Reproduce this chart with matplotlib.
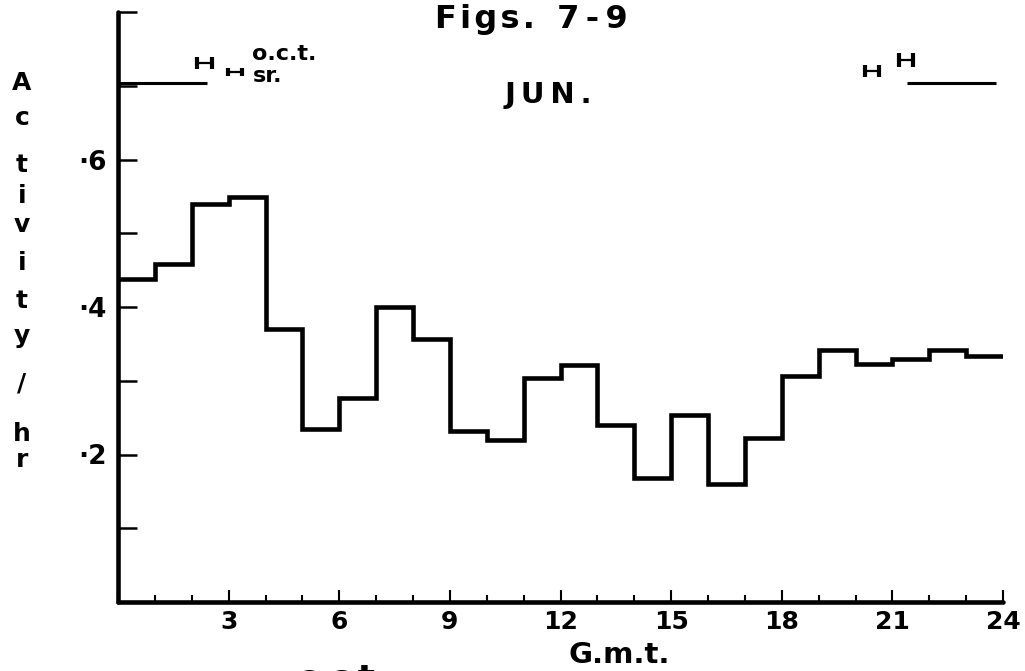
import numpy as np
import matplotlib
matplotlib.use('Agg')
import matplotlib.pyplot as plt
from matplotlib.ticker import FixedLocator, MultipleLocator

#%% data
hours = list(range(25))  # hour edges, G.m.t.
activity = [0.438, 0.458, 0.539, 0.549, 0.370, 0.235, 0.276, 0.400,
            0.357, 0.232, 0.219, 0.304, 0.322, 0.240, 0.168, 0.254,
            0.160, 0.222, 0.307, 0.342, 0.323, 0.330, 0.342, 0.334]

# dark bars at top (o.c.t. to o.c.t.)
night_left = [0, 2.4]
night_right = [21.4, 23.8]
night_level = 0.704

# o.c.t. / sr. ranges (centre, half width, level)
mark_x = [2.34, 3.17, 20.46, 21.37]
mark_xerr = [0.20, 0.19, 0.19, 0.20]
mark_y = [0.731, 0.718, 0.720, 0.735]
mark_cap = [4.3, 3.0, 4.3, 5.0]

xticks = [3, 6, 9, 12, 15, 18, 21, 24]
yticks = [0.2, 0.4, 0.6]
ytick_labels = ['·2', '·4', '·6']

#%% plot
W, H = 1025, 671
fig = plt.figure(figsize=(W / 100, H / 100), dpi=100)
ax = fig.add_axes([118 / W, 1 - 602 / H, (1003 - 118) / W, (602 - 12) / H])

ax.stairs(activity, hours, baseline=None, color='k', lw=3.3)

ax.plot(night_left, [night_level] * 2, color='k', lw=2.2, solid_capstyle='butt')
ax.plot(night_right, [night_level] * 2, color='k', lw=2.2, solid_capstyle='butt')
for x, xe, y, c in zip(mark_x, mark_xerr, mark_y, mark_cap):
    ax.errorbar(x, y, xerr=xe, fmt='none', ecolor='k', elinewidth=1.6,
                capsize=c, capthick=3)

ax.set_xlim(0, 24)
ax.set_ylim(0, 0.8)
for s in ['top', 'right']:
    ax.spines[s].set_visible(False)
for s in ['left', 'bottom']:
    ax.spines[s].set_linewidth(3.3)
    ax.spines[s].set_capstyle('round')

ax.xaxis.set_major_locator(FixedLocator(xticks))
ax.xaxis.set_minor_locator(MultipleLocator(1))
ax.set_xticklabels([str(t) for t in xticks])
ax.yaxis.set_major_locator(MultipleLocator(0.1))
ax.set_yticks(yticks, ytick_labels)
ax.yaxis.set_minor_locator(MultipleLocator(0.1))

ax.tick_params(axis='x', which='major', direction='in', length=9, width=1.5,
               pad=6, labelsize=18)
ax.tick_params(axis='x', which='minor', direction='in', length=5, width=1.5)
ax.tick_params(axis='y', which='both', direction='in', length=14, width=1.8,
               pad=8, labelsize=19)
for lab in ax.get_xticklabels() + ax.get_yticklabels():
    lab.set_fontweight('bold')

def ftext(x, y, s, size, **kw):
    # x, y in reference pixels, y measured from the top
    fig.text(x / W, 1 - y / H, s, fontsize=size, fontweight='bold',
             va=kw.pop('va', 'baseline'), ha=kw.pop('ha', 'left'), **kw)

ftext(435, 28, 'F\u200ai\u200ag\u200as\u200a.  7\u2009-\u20099', 23)
ftext(505, 103, 'J\u2009U\u2009N\u2009.', 21)
ftext(252, 60, 'o.c.t.', 16)
ftext(253, 82, 'sr.', 16)
ftext(568, 663, 'G.m.t.', 21)
# caption of the next figure, only its top shows at the bottom edge
ftext(297, 689, 'o\u2009c\u2009t', 26)

# vertical stacked y label
letters = ['A', 'c', 't', 'i', 'v', 'i', 't', 'y', '/', 'h', 'r']
baselines = [90, 125, 172, 203, 232, 270, 308, 343, 390, 441, 467]
for ch, yb in zip(letters, baselines):
    ftext(22, yb, ch, 18, ha='center')

fig.savefig('out.png', dpi=100)
